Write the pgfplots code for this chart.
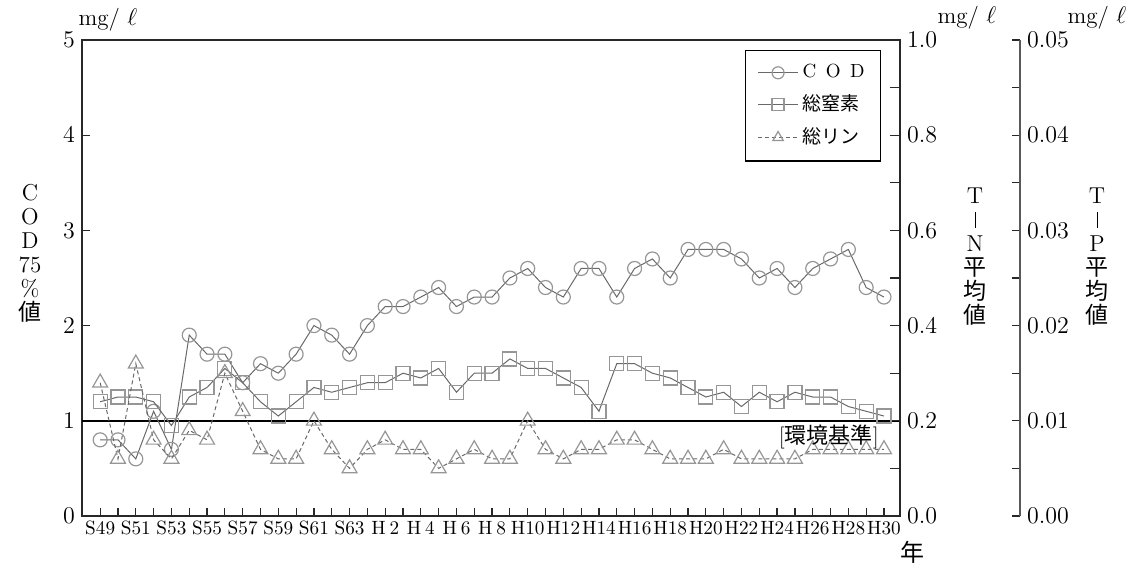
\documentclass[border=0pt]{standalone}
\usepackage{fontspec}
\usepackage{pgfplots}
\usepackage{pgfplotstable}
\pgfplotsset{compat=1.18}
\newfontfamily\jp{Noto Sans CJK JP}
\definecolor{lncol}{RGB}{105,105,105}
\definecolor{mkcol}{RGB}{150,150,150}
\definecolor{axcol}{RGB}{40,40,40}

% S49 .. S63 = 0..14, H1 .. H30 = 15..44
\pgfplotstableread{
x cod tn tp
0  0.8 0.24 0.014
1  0.8 0.25 0.006
2  0.6 0.25 0.016
3  1.1 0.24 0.008
4  0.7 0.19 0.006
5  1.9 0.25 0.009
6  1.7 0.27 0.008
7  1.7 0.31 0.015
8  1.4 0.28 0.011
9  1.6 0.24 0.007
10 1.5 0.21 0.006
11 1.7 0.24 0.006
12 2.0 0.27 0.010
13 1.9 0.26 0.007
14 1.7 0.27 0.005
15 2.0 0.28 0.007
16 2.2 0.28 0.008
17 2.2 0.30 0.007
18 2.3 0.29 0.007
19 2.4 0.31 0.005
20 2.2 0.26 0.006
21 2.3 0.30 0.007
22 2.3 0.30 0.006
23 2.5 0.33 0.006
24 2.6 0.31 0.010
25 2.4 0.31 0.007
26 2.3 0.29 0.006
27 2.6 0.27 0.007
28 2.6 0.22 0.007
29 2.3 0.32 0.008
30 2.6 0.32 0.008
31 2.7 0.30 0.007
32 2.5 0.29 0.006
33 2.8 0.27 0.006
34 2.8 0.25 0.006
35 2.8 0.26 0.007
36 2.7 0.23 0.006
37 2.5 0.26 0.006
38 2.6 0.24 0.006
39 2.4 0.26 0.006
40 2.6 0.25 0.007
41 2.7 0.25 0.007
42 2.8 0.23 0.007
43 2.4 0.22 0.007
44 2.3 0.21 0.007
}\datatab

\pgfplotsset{
  codstyle/.style={lncol, line width=0.5pt, mark=o, mark size=3.5pt,
    mark options={solid, draw=mkcol, line width=0.6pt}},
  tnstyle/.style={lncol, line width=0.5pt, mark=square, mark size=3.5pt,
    mark options={solid, draw=mkcol, line width=0.6pt}},
  tpstyle/.style={lncol, line width=0.5pt, dash pattern=on 2pt off 1.5pt,
    mark=triangle, mark size=4.3pt,
    mark options={solid, draw=mkcol, line width=0.6pt}},
  base/.style={scale only axis, width=409pt, height=238pt,
    at={(41pt,26.5pt)}, anchor=south west,
    xmin=-1.02, xmax=44.9, clip=false,
    tick align=inside, major tick length=4pt, minor tick length=4pt,
    tick style={axcol, line width=0.6pt},
    axis line style={axcol, line width=0.9pt},
    ticklabel style={font=\fontsize{12}{12}\selectfont}},
}

\begin{document}
\begin{tikzpicture}
\begin{axis}[base, ymin=0, ymax=5, ytick={0,1,2,3,4,5},
  ytick pos=left, xtick pos=bottom,
  xtick={0,2,...,44}, minor xtick={1,3,...,43},
  xticklabels={S49,S51,S53,S55,S57,S59,S61,S63,H\hspace{0.2em}2,H\hspace{0.2em}4,H\hspace{0.2em}6,H\hspace{0.2em}8,H10,H12,H14,H16,H18,H20,H22,H24,H26,H28,H30},
  x tick label style={font=\fontsize{9.6}{9.6}\selectfont, yshift=1pt}]
\addplot[black, line width=1pt] coordinates {(-1.02,1) (44.9,1)};
\addplot[codstyle] table[x=x, y=cod] {\datatab};
\end{axis}

\begin{axis}[base, ymin=0, ymax=1, axis x line=none, axis y line*=right,
  major tick length=5pt, minor tick length=5pt,
  ytick={0,0.2,0.4,0.6,0.8,1.0}, minor ytick={0.1,0.3,0.5,0.7,0.9},
  yticklabel style={/pgf/number format/fixed,
    /pgf/number format/fixed zerofill, /pgf/number format/precision=1},
  legend style={at={(0.977,0.979)}, anchor=north east, draw=black,
    line width=0.6pt, inner xsep=6pt, inner ysep=5pt, row sep=3pt,
    font=\fontsize{9.5}{11}\selectfont},
  legend cell align=left,
  legend image code/.code={\draw[mark repeat=2, mark phase=2, mark size=3pt]
    plot coordinates {(0pt,0pt) (10pt,0pt) (20pt,0pt)};}]
\addlegendimage{codstyle}
\addlegendentry{C\hspace{0.5em}O\hspace{0.5em}D}
\addplot[tnstyle] table[x=x, y=tn] {\datatab};
\addlegendentry{\jp 総窒素}
\addlegendimage{tpstyle}
\addlegendentry{\jp 総リン}
\end{axis}

\begin{axis}[base, ymin=0, ymax=0.05, hide axis]
\addplot[tpstyle] table[x=x, y=tp] {\datatab};
\end{axis}

\begin{axis}[scale only axis, width=1pt, height=238pt,
  at={(510pt,26.5pt)}, anchor=south east,
  xmin=0, xmax=1, ymin=0, ymax=0.05,
  axis x line=none, axis y line*=right,
  tick align=inside, major tick length=4pt, minor tick length=4pt,
  tick style={axcol, line width=0.6pt},
  axis line style={black!65, line width=0.7pt},
  ytick={0,0.01,0.02,0.03,0.04,0.05},
  minor ytick={0.005,0.015,0.025,0.035,0.045},
  scaled y ticks=false,
  yticklabel style={font=\fontsize{12}{12}\selectfont,
    /pgf/number format/fixed, /pgf/number format/fixed zerofill,
    /pgf/number format/precision=2}]
\end{axis}

\node[font=\fontsize{11.5}{11.5}\selectfont] at (54pt,274.5pt) {mg/\ $\ell$};
\node[font=\fontsize{11.5}{11.5}\selectfont] at (483.5pt,275.5pt) {mg/\ $\ell$};
\node[font=\fontsize{11.5}{11.5}\selectfont] at (548.5pt,275.5pt) {mg/\ $\ell$};

\node[align=center, font=\fontsize{11.5}{12}\selectfont] at (15pt,158pt)
  {C\\O\\D\\75\\\%\\{\jp 値}};
\node[align=center, font=\fontsize{11.5}{12}\selectfont] at (487.5pt,156pt)
  {T\\\rule{0.5pt}{8pt}\\N\\{\jp 平}\\{\jp 均}\\{\jp 値}};
\node[align=center, font=\fontsize{11.5}{12}\selectfont] at (548.5pt,156pt)
  {T\\\rule{0.5pt}{8pt}\\P\\{\jp 平}\\{\jp 均}\\{\jp 値}};

\node[anchor=east, font=\fontsize{11}{11}\selectfont] at (443pt,66pt)
  {[{\jp 環境基準}]};
\node[font=\fontsize{12}{12}\selectfont] at (456pt,8.5pt) {\jp 年};

\pgfresetboundingbox
\path[use as bounding box] (0,0) rectangle (565.5pt,284.5pt);
\end{tikzpicture}
\end{document}
